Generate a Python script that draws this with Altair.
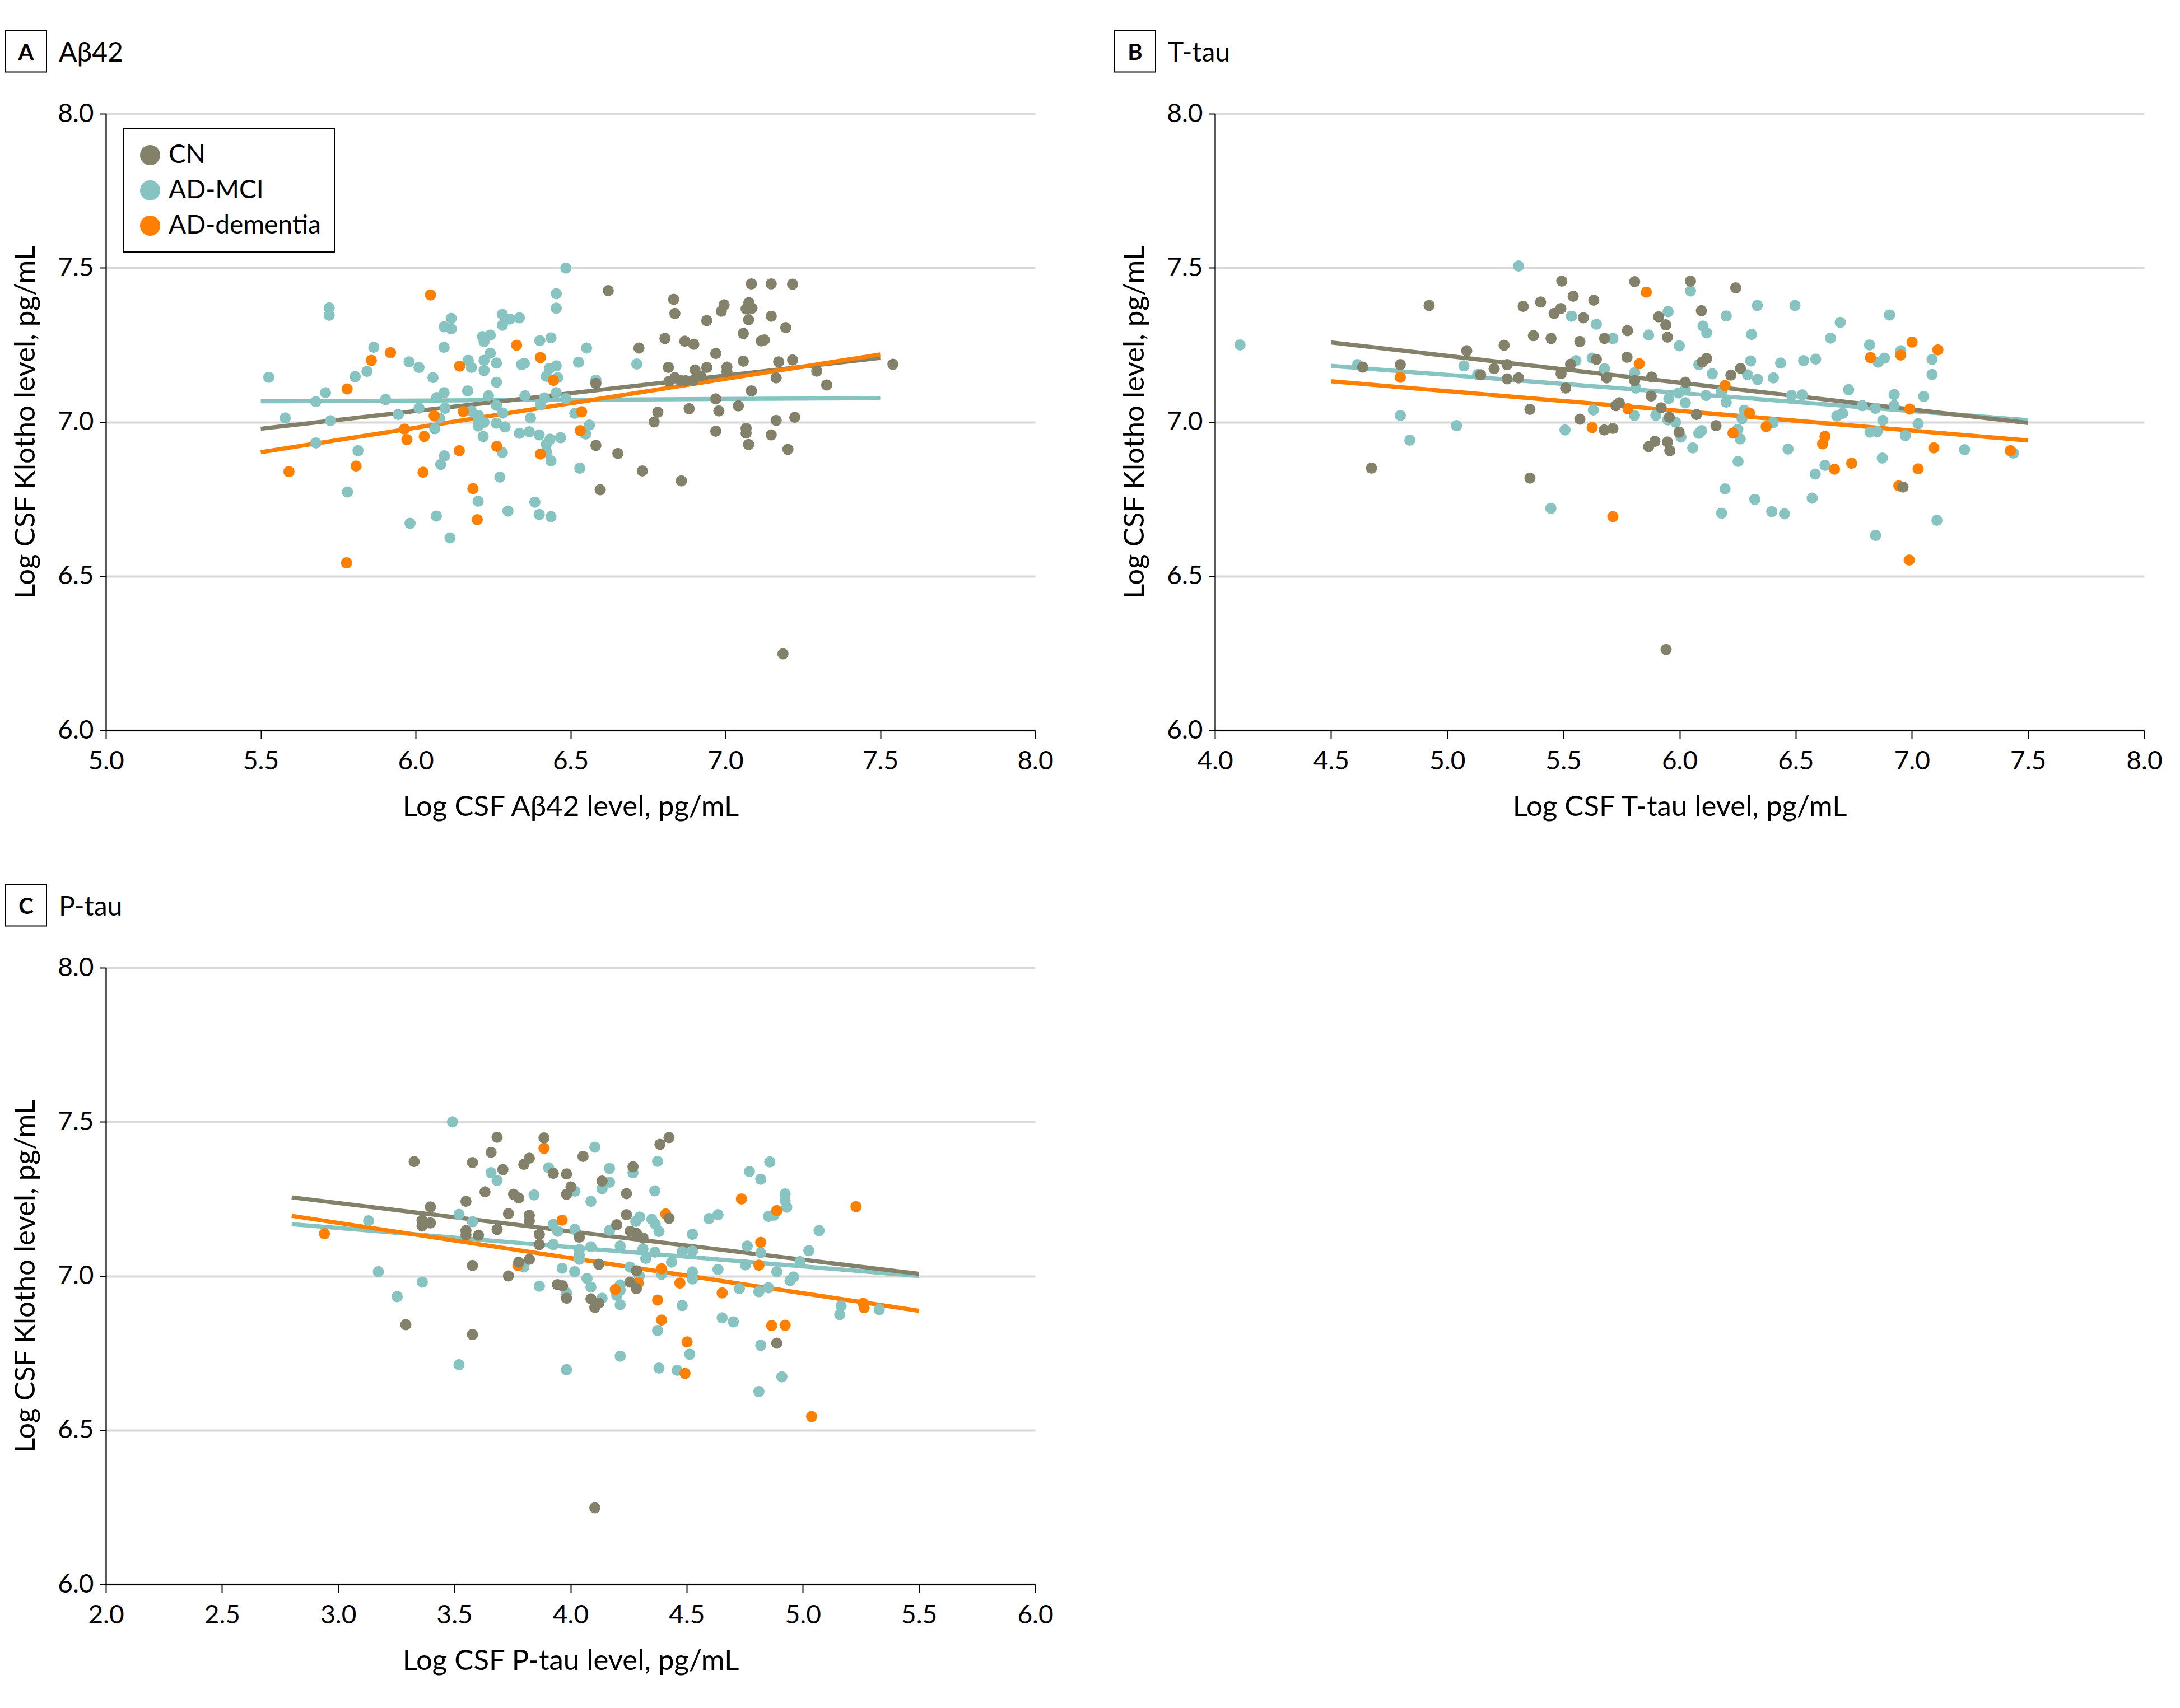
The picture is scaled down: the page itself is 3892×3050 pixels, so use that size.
import altair as alt
import pandas as pd

# ---------------- data ----------------
GROUPS = ["CN", "AD-MCI", "AD-dementia"]
COLORS = ["#84816B", "#86C3C1", "#FF8000"]
Y_TICKS = [6.0, 6.5, 7.0, 7.5, 8.0]
A_X_TICKS = [5.0, 5.5, 6.0, 6.5, 7.0, 7.5, 8.0]
B_X_TICKS = [4.0, 4.5, 5.0, 5.5, 6.0, 6.5, 7.0, 7.5, 8.0]
C_X_TICKS = [2.0, 2.5, 3.0, 3.5, 4.0, 4.5, 5.0, 5.5, 6.0]

# Panel A: (log CSF Abeta42, log CSF Klotho)
A_CN = [(6.622,7.426),(6.833,7.398),(6.837,7.352),(7.084,7.448),(7.148,7.448),(7.217,7.447),(6.996,7.380),(6.987,7.359),(7.076,7.387),(7.067,7.367),(7.086,7.369),(7.148,7.343),(7.075,7.332),(6.940,7.329),(7.195,7.306),(7.058,7.287),(6.805,7.271),(6.869,7.262),(6.898,7.252),(7.116,7.263),(7.126,7.266),(6.721,7.240),(6.969,7.222),(7.058,7.197),(7.172,7.195),(7.217,7.201),(7.541,7.187),(6.816,7.177),(6.902,7.169),(6.940,7.177),(7.005,7.178),(7.005,7.164),(7.295,7.165),(6.837,7.144),(6.818,7.132),(6.854,7.135),(6.871,7.134),(6.896,7.135),(6.921,7.149),(7.164,7.143),(7.327,7.120),(6.582,7.125),(7.084,7.101),(6.969,7.075),(6.883,7.043),(6.979,7.036),(7.042,7.052),(6.782,7.032),(6.770,7.000),(7.164,7.005),(7.224,7.015),(6.969,6.970),(7.067,6.979),(7.067,6.964),(7.148,6.958),(6.582,6.924),(7.075,6.927),(7.202,6.911),(6.653,6.898),(6.732,6.841),(6.858,6.809),(6.596,6.780),(7.186,6.248)]
A_MCI = [(5.526,7.145),(5.721,7.370),(5.721,7.346),(6.485,7.499),(6.454,7.416),(6.454,7.369),(6.115,7.336),(6.092,7.309),(6.115,7.302),(6.280,7.349),(6.304,7.334),(6.335,7.338),(6.280,7.314),(6.216,7.277),(6.241,7.282),(6.221,7.261),(6.401,7.264),(6.437,7.273),(6.092,7.242),(5.865,7.242),(5.979,7.195),(6.011,7.177),(5.843,7.164),(5.805,7.147),(6.056,7.144),(6.170,7.200),(6.180,7.177),(6.221,7.200),(6.241,7.223),(6.221,7.167),(6.261,7.191),(6.342,7.186),(6.351,7.190),(6.432,7.174),(6.454,7.182),(6.422,7.148),(6.459,7.144),(6.526,7.194),(6.261,7.129),(5.709,7.095),(6.168,7.101),(6.092,7.095),(6.068,7.079),(5.678,7.066),(5.903,7.073),(6.235,7.085),(6.353,7.085),(6.416,7.078),(6.454,7.095),(6.485,7.076),(6.403,7.055),(6.261,7.054),(6.011,7.045),(6.095,7.044),(6.281,7.029),(6.514,7.028),(5.944,7.024),(6.077,7.012),(5.579,7.013),(5.725,7.004),(6.180,7.035),(6.203,7.021),(6.203,7.006),(6.221,6.999),(6.202,6.987),(6.371,7.013),(6.261,6.996),(6.289,6.984),(6.062,6.978),(6.218,6.953),(6.335,6.963),(6.367,6.968),(6.399,6.958),(6.434,6.944),(6.468,6.949),(6.422,6.928),(6.545,6.965),(5.678,6.932),(5.814,6.907),(6.280,6.901),(6.422,6.903),(6.093,6.890),(6.437,6.874),(6.081,6.862),(6.530,6.850),(6.272,6.821),(5.780,6.773),(6.202,6.743),(6.385,6.740),(6.298,6.711),(6.067,6.695),(6.399,6.700),(6.437,6.693),(5.982,6.671),(6.111,6.624),(6.552,7.240),(6.714,7.188),(6.582,7.136),(6.561,6.990),(6.549,6.961)]
A_DEM = [(6.048,7.412),(6.326,7.249),(5.919,7.225),(5.857,7.200),(6.142,7.181),(6.403,7.209),(6.445,7.135),(5.779,7.107),(6.536,7.033),(6.060,7.020),(6.154,7.034),(5.964,6.977),(5.972,6.943),(6.028,6.953),(6.532,6.972),(6.262,6.921),(6.141,6.907),(6.403,6.896),(5.591,6.839),(5.808,6.857),(6.024,6.837),(6.185,6.784),(6.199,6.683),(5.777,6.543)]
A_FIT_X = [5.5, 7.5]
A_FIT_Y = {"CN": [6.978, 7.208], "AD-MCI": [7.067, 7.077], "AD-dementia": [6.902, 7.219]}

# Panel B: (log CSF T-tau, log CSF Klotho)
B_CN = [(4.922,7.378),(5.493,7.457),(5.542,7.408),(5.631,7.395),(5.327,7.375),(5.402,7.389),(5.489,7.368),(5.460,7.352),(5.586,7.338),(5.371,7.280),(5.447,7.271),(5.571,7.261),(5.677,7.271),(5.245,7.249),(5.084,7.231),(5.642,7.203),(5.531,7.187),(4.636,7.178),(4.798,7.186),(5.144,7.153),(5.202,7.173),(5.258,7.186),(5.258,7.140),(5.307,7.143),(5.490,7.157),(5.510,7.110),(5.686,7.143),(5.356,7.041),(5.571,7.009),(5.676,6.974),(4.674,6.850),(5.356,6.818),(5.807,7.455),(6.047,7.457),(6.242,7.435),(6.094,7.361),(5.910,7.341),(5.941,7.315),(5.776,7.296),(5.948,7.275),(5.774,7.210),(6.117,7.206),(6.098,7.195),(6.262,7.174),(6.221,7.152),(5.880,7.146),(5.807,7.134),(6.025,7.129),(5.878,7.084),(5.741,7.062),(5.726,7.053),(5.921,7.046),(5.956,7.015),(6.073,7.024),(5.713,6.979),(6.157,6.988),(5.998,6.967),(5.894,6.937),(5.867,6.920),(5.948,6.935),(5.958,6.907),(6.962,6.789),(5.942,6.262)]
B_MCI = [(4.108,7.250),(5.307,7.506),(5.535,7.343),(5.642,7.317),(5.554,7.199),(5.624,7.207),(5.677,7.173),(4.614,7.186),(5.072,7.182),(5.131,7.154),(5.629,7.039),(5.507,6.974),(4.798,7.021),(5.040,6.988),(4.839,6.941),(5.446,6.720),(6.047,7.425),(6.335,7.378),(6.497,7.378),(5.951,7.358),(6.201,7.344),(6.904,7.347),(6.692,7.323),(6.101,7.311),(6.117,7.289),(6.310,7.284),(5.867,7.282),(5.713,7.271),(6.650,7.272),(5.999,7.247),(6.818,7.250),(6.083,7.186),(6.306,7.198),(6.435,7.191),(6.534,7.199),(6.586,7.204),(6.855,7.194),(6.882,7.207),(6.952,7.231),(7.087,7.203),(7.087,7.154),(6.293,7.153),(6.336,7.138),(6.404,7.143),(6.141,7.156),(5.807,7.160),(5.812,7.110),(5.996,7.094),(6.025,7.106),(6.114,7.086),(6.181,7.099),(6.482,7.086),(6.528,7.088),(6.728,7.105),(6.924,7.089),(7.051,7.083),(5.954,7.076),(6.025,7.062),(6.201,7.064),(5.898,7.022),(5.949,7.007),(5.983,6.999),(5.806,7.021),(6.279,7.038),(6.269,7.011),(6.787,7.053),(6.843,7.044),(6.924,7.053),(6.677,7.019),(6.702,7.028),(6.875,7.005),(7.027,6.994),(6.403,6.998),(6.251,6.976),(6.261,6.945),(6.006,6.951),(6.083,6.963),(6.095,6.972),(6.820,6.967),(6.851,6.969),(6.972,6.956),(6.057,6.916),(6.467,6.912),(7.227,6.910),(7.437,6.899),(6.873,6.883),(6.252,6.872),(6.626,6.859),(6.584,6.831),(6.196,6.783),(6.324,6.749),(6.571,6.753),(6.181,6.704),(6.397,6.709),(6.452,6.702),(7.108,6.681),(6.844,6.632)]
B_DEM = [(4.798,7.145),(5.624,6.982),(5.857,7.421),(7.001,7.259),(7.112,7.234),(5.827,7.189),(6.822,7.209),(6.952,7.217),(6.196,7.118),(5.778,7.043),(6.301,7.029),(6.991,7.042),(6.373,6.985),(6.230,6.964),(6.626,6.953),(6.616,6.929),(7.095,6.916),(7.424,6.907),(6.741,6.866),(6.667,6.847),(7.027,6.848),(6.944,6.793),(5.713,6.693),(6.989,6.552)]
B_FIT_X = [4.5, 7.5]
B_FIT_Y = {"CN": [7.258, 6.997], "AD-MCI": [7.182, 7.006], "AD-dementia": [7.132, 6.940]}

# Panel C: (log CSF P-tau, log CSF Klotho)
C_CN = [(3.684,7.450),(3.886,7.448),(3.327,7.371),(3.578,7.368),(3.658,7.401),(3.823,7.382),(3.799,7.362),(3.709,7.345),(3.926,7.333),(3.983,7.331),(4.054,7.388),(4.136,7.308),(4.269,7.354),(4.385,7.427),(4.424,7.449),(3.632,7.273),(3.755,7.265),(3.777,7.253),(4.002,7.289),(3.983,7.265),(4.241,7.267),(3.550,7.242),(3.397,7.224),(3.733,7.202),(3.823,7.197),(3.823,7.179),(3.361,7.181),(3.397,7.172),(3.361,7.162),(3.550,7.147),(3.550,7.133),(3.604,7.132),(3.684,7.151),(3.866,7.135),(4.038,7.126),(4.241,7.199),(4.199,7.166),(4.257,7.145),(4.284,7.138),(4.312,7.123),(3.866,7.102),(4.122,7.038),(3.777,7.045),(3.823,7.054),(3.578,7.034),(4.284,7.017),(3.733,7.000),(3.944,6.972),(3.966,6.968),(3.983,6.928),(4.088,6.926),(4.105,6.898),(4.122,6.912),(4.256,6.980),(4.284,6.959),(3.291,6.842),(3.578,6.810),(4.105,6.248),(4.424,7.187),(4.888,6.782)]
C_MCI = [(3.492,7.500),(4.105,7.418),(3.658,7.335),(3.684,7.310),(3.906,7.351),(4.168,7.349),(4.168,7.304),(4.136,7.283),(4.269,7.335),(4.375,7.372),(3.843,7.263),(4.019,7.275),(4.088,7.242),(4.363,7.276),(3.520,7.200),(3.578,7.176),(3.131,7.179),(3.926,7.167),(3.945,7.145),(4.019,7.151),(4.168,7.148),(4.298,7.191),(4.281,7.177),(4.350,7.184),(4.365,7.168),(4.381,7.144),(3.926,7.102),(4.038,7.086),(4.088,7.095),(4.214,7.097),(4.312,7.088),(4.363,7.077),(4.038,7.068),(4.038,7.054),(4.324,7.057),(3.799,7.029),(3.964,7.025),(4.018,7.014),(4.256,7.029),(4.296,7.000),(4.392,7.005),(3.173,7.014),(3.362,6.980),(3.866,6.967),(3.983,6.945),(4.071,6.992),(4.088,6.964),(4.136,6.928),(4.214,6.971),(4.214,6.954),(4.199,6.937),(4.214,6.907),(3.254,6.933),(4.375,6.823),(3.520,6.712),(3.983,6.696),(4.214,6.740),(4.381,6.701),(4.770,7.339),(4.858,7.370),(4.819,7.314),(4.924,7.266),(4.924,7.244),(4.931,7.223),(4.852,7.193),(4.876,7.197),(4.596,7.186),(4.635,7.199),(4.525,7.135),(5.070,7.147),(4.761,7.097),(4.481,7.079),(4.525,7.081),(4.819,7.075),(5.026,7.082),(4.435,7.045),(4.753,7.036),(4.988,7.047),(4.635,7.021),(4.525,7.013),(4.525,6.990),(4.888,7.014),(4.960,6.997),(4.945,6.985),(4.727,6.959),(4.811,6.949),(4.852,6.962),(4.481,6.904),(5.165,6.903),(5.159,6.875),(5.329,6.891),(4.653,6.864),(4.701,6.851),(4.819,6.775),(4.513,6.746),(4.459,6.694),(4.910,6.673),(4.811,6.625)]
C_DEM = [(3.886,7.414),(2.941,7.137),(3.964,7.181),(3.774,7.034),(4.193,6.956),(4.292,6.977),(4.375,6.922),(4.392,7.023),(4.392,6.857),(4.736,7.250),(5.229,7.225),(4.410,7.201),(4.888,7.212),(4.819,7.109),(4.811,7.035),(4.471,6.977),(4.653,6.945),(5.260,6.911),(5.264,6.897),(4.866,6.839),(4.924,6.840),(4.502,6.786),(4.493,6.684),(5.038,6.544)]
C_FIT_X = [2.8, 5.5]
C_FIT_Y = {"CN": [7.255, 7.007], "AD-MCI": [7.168, 7.000], "AD-dementia": [7.195, 6.887]}

# ---------------- chart ----------------
FONT = "Lato"
W, H = 1659, 1101
COLOR_OF = dict(zip(GROUPS, COLORS))


def points_frame(cn, mci, dem):
    rows = []
    for g, pts in (("AD-MCI", mci), ("AD-dementia", dem), ("CN", cn)):
        for x, y in pts:
            rows.append({"x": x, "y": y, "group": g})
    return pd.DataFrame(rows)


def panel(letter, name, xtitle, xticks, cn, mci, dem, fit_x, fit_y, with_legend):
    xscale = alt.Scale(domain=[xticks[0], xticks[-1]], nice=False, zero=False)
    yscale = alt.Scale(domain=[6.0, 8.0], nice=False, zero=False)
    xenc = alt.X(
        "x:Q", scale=xscale,
        axis=alt.Axis(values=xticks, format=".1f", title=xtitle, grid=False,
                      tickSize=15, labelPadding=54, labelBaseline="alphabetic",
                      labelFlush=False, titleBaseline="alphabetic", titleY=152),
    )
    yenc = alt.Y(
        "y:Q", scale=yscale,
        axis=alt.Axis(values=Y_TICKS, format=".1f", title="Log CSF Klotho level, pg/mL",
                      grid=True, tickSize=11.5, labelPadding=10.5, labelBaseline="middle",
                      titleBaseline="alphabetic", titleAngle=270, titleX=-128, titleY=H / 2),
    )
    cscale = alt.Scale(domain=GROUPS, range=COLORS)

    layers = []
    for g in ["AD-MCI", "CN", "AD-dementia"]:
        df = pd.DataFrame({"x": fit_x, "y": fit_y[g], "group": [g, g]})
        layers.append(
            alt.Chart(df).mark_line(strokeWidth=7.5, color=COLOR_OF[g]).encode(x=xenc, y=yenc)
        )

    if with_legend:
        leg = alt.Legend(title=None, orient="none", legendX=32, legendY=27,
                         strokeColor="black", fillColor="white", padding=24,
                         labelFont=FONT, labelFontSize=46, labelColor="black",
                         symbolSize=1296, symbolType="circle", symbolStrokeWidth=0,
                         symbolOpacity=1, rowPadding=17, labelOffset=10, labelLimit=600)
        color = alt.Color("group:N", scale=cscale, legend=leg)
    else:
        color = alt.Color("group:N", scale=cscale, legend=None)
    pts = alt.Chart(points_frame(cn, mci, dem)).mark_circle(size=400, opacity=1).encode(
        x=xenc, y=yenc, color=color
    )
    layers.append(pts)

    lab = pd.DataFrame({"letter": [letter], "name": [name]})
    box = alt.Chart(lab).mark_rect(fill="white", stroke="black", strokeWidth=2).encode(
        x=alt.value(-179), x2=alt.value(-106), y=alt.value(-148), y2=alt.value(-74.6)
    )
    letter_txt = alt.Chart(lab).mark_text(
        font=FONT, fontSize=40, fontWeight="bold", align="center", baseline="alphabetic", color="black"
    ).encode(x=alt.value(-142.5), y=alt.value(-96.5), text="letter:N")
    name_txt = alt.Chart(lab).mark_text(
        font=FONT, fontSize=48, align="left", baseline="alphabetic", color="black"
    ).encode(x=alt.value(-84), y=alt.value(-93), text="name:N")
    layers += [box, letter_txt, name_txt]

    return alt.layer(*layers).properties(width=W, height=H)


pa = panel("A", "Aβ42", "Log CSF Aβ42 level, pg/mL", A_X_TICKS, A_CN, A_MCI, A_DEM, A_FIT_X, A_FIT_Y, True)
pb = panel("B", "T-tau", "Log CSF T-tau level, pg/mL", B_X_TICKS, B_CN, B_MCI, B_DEM, B_FIT_X, B_FIT_Y, False)
pc = panel("C", "P-tau", "Log CSF P-tau level, pg/mL", C_X_TICKS, C_CN, C_MCI, C_DEM, C_FIT_X, C_FIT_Y, False)

chart = (
    alt.concat(pa, pb, pc, columns=2, spacing={"row": 424, "column": 321}, bounds="flush")
    .resolve_scale(color="independent")
    .resolve_legend(color="independent")
    .properties(padding={"left": 0, "top": 45, "right": 5, "bottom": 5}, background="white")
    .configure_view(stroke="transparent")
    .configure_axis(
        domainColor="black", domainWidth=2.3, tickColor="black", tickWidth=2,
        labelFont=FONT, labelFontSize=46, labelColor="black",
        titleFont=FONT, titleFontSize=51, titleFontWeight="normal", titleColor="black",
        gridColor="#D9D9D9", gridWidth=4,
    )
    .configure_legend(strokeWidth=2)
)

chart.save("out.html", embed_options={"renderer": "svg", "actions": False})
